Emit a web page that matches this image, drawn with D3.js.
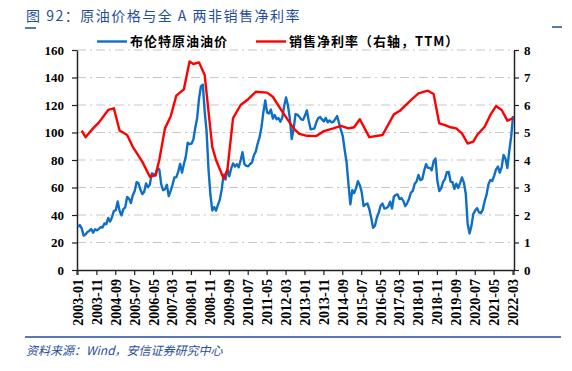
<!DOCTYPE html>
<html lang="zh">
<head>
<meta charset="UTF-8">
<title>原油价格与全A两非销售净利率</title>
<style>
  body { margin: 0; background: #fff; }
  svg { display: block; }
  .tick text { font-family: "Liberation Serif", "Times New Roman", serif; font-weight: bold; font-size: 13px; fill: #000; }
</style>
<script src="https://d3js.org/d3.v7.min.js"></script>
</head>
<body>
<div id="chart"></div>
<script>
// Brent crude, monthly, 2003-01 .. 2022-03 (USD/bbl)
var brent = [
  31.3, 32.7, 30.3, 25.0, 25.8, 27.6, 28.4, 29.8, 27.1, 29.6, 28.8, 29.8,
  31.2, 30.9, 33.8, 33.4, 37.9, 35.2, 38.4, 43.0, 43.4, 49.8, 43.1, 39.7,
  44.3, 45.6, 53.1, 51.9, 48.7, 54.3, 57.5, 63.9, 63.1, 58.5, 55.2, 56.8,
  62.9, 60.2, 62.1, 70.3, 69.8, 68.7, 73.7, 73.2, 62.5, 58.1, 58.8, 62.0,
  53.7, 57.6, 62.1, 67.4, 67.5, 71.3, 77.2, 70.8, 77.1, 82.3, 92.5, 91.5,
  91.9, 94.8, 103.3, 110.4, 124.6, 133.5, 134.8, 115.2, 100.8, 73.6, 55.1, 43.3,
  45.7, 43.2, 47.3, 51.2, 58.6, 69.3, 65.8, 73.1, 68.2, 73.9, 77.5, 75.2,
  76.9, 74.7, 79.9, 85.7, 77.0, 75.7, 75.5, 77.1, 78.2, 83.5, 86.1, 92.0,
  96.5, 103.7, 114.6, 123.3, 114.5, 113.9, 116.7, 110.1, 112.8, 109.6, 110.5, 107.9,
  110.7, 119.3, 125.5, 119.8, 110.3, 95.2, 102.6, 113.4, 113.0, 111.5, 109.5, 109.2,
  112.3, 116.1, 108.5, 102.3, 102.6, 102.9, 107.4, 110.3, 111.2, 109.5, 108.1, 110.6,
  107.4, 108.8, 107.4, 107.8, 109.7, 111.9, 107.0, 101.9, 97.3, 87.3, 78.4, 62.3,
  47.8, 58.1, 55.9, 59.5, 64.6, 61.7, 56.5, 46.5, 47.6, 48.4, 44.3, 38.0,
  30.7, 32.2, 38.2, 41.6, 46.7, 48.3, 44.7, 45.0, 46.2, 49.7, 44.7, 53.3,
  54.6, 54.9, 51.6, 52.3, 50.3, 46.4, 48.5, 51.7, 56.2, 57.5, 62.7, 64.4,
  69.1, 65.3, 66.0, 72.1, 77.0, 74.4, 74.3, 72.5, 78.9, 81.0, 64.7, 57.4,
  59.4, 64.0, 66.1, 71.2, 71.3, 64.2, 63.9, 59.0, 62.8, 59.7, 63.2, 67.3,
  63.6, 55.5, 33.7, 26.6, 32.1, 40.8, 43.2, 45.0, 41.9, 41.4, 43.9, 50.2,
  54.8, 62.3, 65.4, 64.8, 68.5, 73.2, 75.2, 70.8, 74.9, 83.7, 80.9, 74.2,
  86.5, 97.0, 112.0
];

// net profit margin TTM (%), read at its turning points
var marginDates = [
  "2003-03", "2003-05", "2003-09", "2003-12", "2004-05", "2004-08", "2004-11",
  "2005-03", "2005-06", "2005-11", "2006-03", "2006-06", "2006-08", "2006-11",
  "2007-02", "2007-05", "2007-09", "2007-12", "2008-02", "2008-05", "2008-08",
  "2008-12", "2009-02", "2009-06", "2009-08", "2009-11", "2010-03", "2010-07",
  "2010-11", "2011-05", "2011-08", "2012-01", "2012-07", "2012-10", "2013-02",
  "2013-07", "2013-11", "2014-04", "2014-08", "2014-12", "2015-03", "2015-06",
  "2015-11", "2016-06", "2016-12", "2017-03", "2017-09", "2018-01", "2018-06",
  "2018-09", "2018-12", "2019-03", "2019-06", "2019-09", "2019-12", "2020-03",
  "2020-06", "2020-08", "2020-12", "2021-03", "2021-06", "2021-09", "2021-12",
  "2022-03"
];
var marginValues = [
  5.07, 4.83, 5.15, 5.36, 5.82, 5.88, 5.07,
  4.91, 4.48, 3.94, 3.39, 3.45, 4.00, 5.15,
  5.58, 6.34, 6.57, 7.58, 7.49, 7.55, 7.09,
  4.48, 4.00, 3.33, 3.64, 5.52, 6.00, 6.21,
  6.48, 6.45, 6.30, 5.76, 5.15, 4.95, 4.88,
  4.87, 5.05, 5.15, 5.24, 5.15, 5.19, 5.48,
  4.83, 4.91, 5.66, 5.78, 6.18, 6.42, 6.52,
  6.40, 5.33, 5.27, 5.19, 5.15, 4.97, 4.60,
  4.67, 4.91, 5.21, 5.64, 5.96, 5.82, 5.43,
  5.52
];

var leftTicks = [0, 20, 40, 60, 80, 100, 120, 140, 160];
var rightTicks = [0, 1, 2, 3, 4, 5, 6, 7, 8];

// month categories 2003-01 .. 2022-03
var months = [];
for (var yr = 2003; yr <= 2022; yr++) {
  for (var mo = 1; mo <= 12; mo++) {
    if (yr === 2022 && mo > 3) break;
    months.push(yr + "-" + (mo < 10 ? "0" + mo : mo));
  }
}
var xLabels = months.filter(function(d, i) { return i % 10 === 0; });

var width = 572, height = 371;
var plotLeft = 77, plotRight = 514, plotTop = 50, plotBottom = 270;
var blue = "#0f6fc6", red = "#ff0000", navy = "#1f4e9c";

var svg = d3.select("#chart").append("svg")
  .attr("width", width).attr("height", height);

var x = d3.scaleBand().domain(months).range([plotLeft, plotRight]);
var cx = function(d) { return x(d) + x.bandwidth() / 2; };
var yL = d3.scaleLinear().domain([0, 160]).range([plotBottom, plotTop]);
var yR = d3.scaleLinear().domain([0, 8]).range([plotBottom, plotTop]);

// title
svg.append("text")
  .attr("x", 26).attr("y", 21)
  .attr("fill", navy)
  .style("font-family", "'Noto Sans CJK SC', sans-serif")
  .style("font-size", "14px")
  .style("letter-spacing", "1.5px")
  .text("图 92：原油价格与全 A 两非销售净利率");
svg.append("line").attr("x1", 25).attr("x2", 36).attr("y1", 28).attr("y2", 28)
  .attr("stroke", navy).attr("stroke-width", 1.5);
svg.append("line").attr("x1", 552).attr("x2", 562).attr("y1", 27).attr("y2", 27)
  .attr("stroke", navy).attr("stroke-width", 1.5);

// gridlines
svg.append("g").selectAll("line")
  .data(leftTicks.slice(1))
  .join("line")
  .attr("x1", plotLeft).attr("x2", plotRight)
  .attr("y1", function(d) { return yL(d); })
  .attr("y2", function(d) { return yL(d); })
  .attr("stroke", "#c8c8c8")
  .attr("stroke-width", 1.2)
  .attr("stroke-dasharray", "9,4,2,4");

// axes
var axL = svg.append("g").attr("transform", "translate(" + plotLeft + ",0)")
  .call(d3.axisLeft(yL).tickValues(leftTicks).tickSize(5).tickPadding(8).tickSizeOuter(0));
var axR = svg.append("g").attr("transform", "translate(" + plotRight + ",0)")
  .call(d3.axisRight(yR).tickValues(rightTicks).tickSize(5).tickPadding(5).tickSizeOuter(0));
var axB = svg.append("g").attr("transform", "translate(0," + plotBottom + ")")
  .call(d3.axisBottom(x).tickValues(xLabels).tickSize(5).tickSizeOuter(0));
axB.selectAll(".tick text")
  .attr("transform", "rotate(-90)")
  .attr("text-anchor", "end")
  .attr("x", -9).attr("y", 0).attr("dy", "0.35em")
  .style("font-size", "14px");
[axL, axR, axB].forEach(function(a) {
  a.select(".domain").attr("stroke", "#222").attr("stroke-width", 1.5);
  a.selectAll(".tick line").attr("stroke", "#222").attr("stroke-width", 1.2);
});
// small crossing ticks at the axis corners
svg.append("line").attr("x1", plotLeft).attr("x2", plotLeft).attr("y1", plotBottom).attr("y2", plotBottom + 5)
  .attr("stroke", "#222").attr("stroke-width", 1.2);
svg.append("line").attr("x1", plotRight).attr("x2", plotRight).attr("y1", plotBottom).attr("y2", plotBottom + 5)
  .attr("stroke", "#222").attr("stroke-width", 1.2);

// lines
var lineL = d3.line().x(function(d) { return cx(d[0]); }).y(function(d) { return yL(d[1]); });
var lineR = d3.line().x(function(d) { return cx(d[0]); }).y(function(d) { return yR(d[1]); });

svg.append("path")
  .datum(months.map(function(m, i) { return [m, brent[i]]; }))
  .attr("d", lineL)
  .attr("fill", "none").attr("stroke", blue).attr("stroke-width", 2.4)
  .attr("stroke-linejoin", "round");

svg.append("path")
  .datum(marginDates.map(function(m, i) { return [m, marginValues[i]]; }))
  .attr("d", lineR)
  .attr("fill", "none").attr("stroke", red).attr("stroke-width", 2.4)
  .attr("stroke-linejoin", "round");

// legend
var legend = [
  { label: "布伦特原油油价", color: blue, x: 97 },
  { label: "销售净利率（右轴，TTM）", color: red, x: 256 }
];
var lg = svg.append("g").selectAll("g").data(legend).join("g")
  .attr("transform", function(d) { return "translate(" + d.x + ",41.5)"; });
lg.append("line").attr("x1", 0).attr("x2", 30).attr("y1", 0).attr("y2", 0)
  .attr("stroke", function(d) { return d.color; }).attr("stroke-width", 2.4);
lg.append("text")
  .attr("x", 33).attr("dy", "0.36em")
  .style("font-family", "'Noto Sans CJK SC', sans-serif")
  .style("font-weight", "bold")
  .style("font-size", "13px")
  .style("letter-spacing", "1px")
  .text(function(d) { return d.label; });

// footer
svg.append("line").attr("x1", 25).attr("x2", 561).attr("y1", 337).attr("y2", 337)
  .attr("stroke", navy).attr("stroke-width", 1.5);
svg.append("text")
  .attr("x", 26).attr("y", 355)
  .attr("fill", navy)
  .style("font-family", "'Noto Sans CJK SC', sans-serif")
  .style("font-style", "italic")
  .style("font-size", "12px")
  .text("资料来源：Wind，安信证券研究中心");
</script>
</body>
</html>
